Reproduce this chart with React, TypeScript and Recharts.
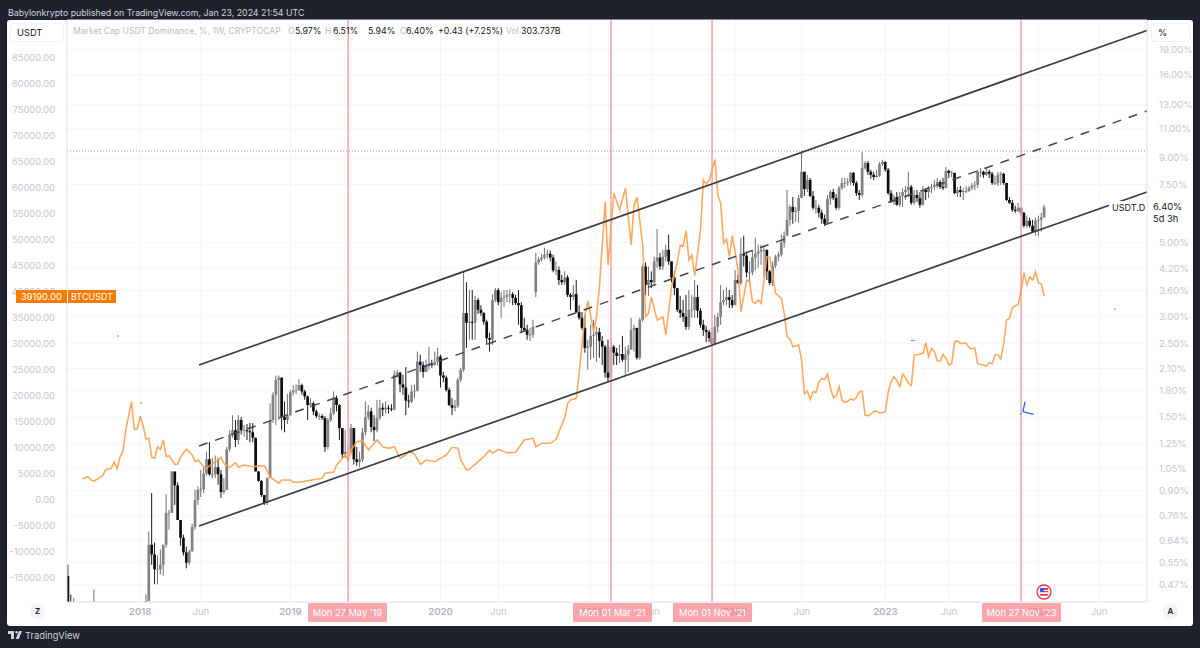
import React from 'react';
import { Bar, CartesianGrid, ComposedChart, Line, ReferenceDot, ReferenceLine, XAxis, YAxis } from 'recharts';

// USDT.D weekly closes, %
const closes = [
  .40, .39, .40, .38, .38, .38, .39, .38, .38, .39, .38, .38, .39, .38, .38, .38, .39, .38, .38, .38,
  .39, .38, .38, .39, .38, .38, .39, .42, .62, .58, .523, .523, .54, .62, .773, .773, 1.03, .935, .736, .651,
  .588, .548, .592, .702, .845, .906, .912, 1.015, 1.12, 1.01, 1.01, 1.06, 1.01, .893, .906, 1.20, 1.33, 1.37, 1.28, 1.47,
  1.37, 1.37, 1.36, 1.35, 1.30, 1.03, .965, .875, .829, .985, 1.47, 1.75, 1.94, 1.97, 1.50, 1.47, 1.52, 1.78, 1.80, 1.81,
  1.87, 1.79, 1.73, 1.63, 1.65, 1.56, 1.51, 1.51, 1.49, 1.22, 1.47, 1.54, 1.71, 1.63, 1.39, 1.16, 1.18, 1.18, 1.39, 1.12,
  1.10, 1.12, 1.35, 1.50, 1.56, 1.40, 1.37, 1.49, 1.60, 1.58, 1.60, 1.59, 1.58, 2.01, 2.04, 1.88, 1.84, 1.68, 1.67, 1.79,
  1.80, 2.20, 2.15, 2.05, 2.14, 2.17, 2.15, 2.20, 2.28, 2.00, 1.97, 1.81, 1.63, 1.60, 1.62, 1.94, 2.08, 3.08, 2.88, 2.90,
  2.88, 3.37, 3.15, 3.08, 2.90, 2.59, 2.56, 3.37, 3.61, 3.32, 3.42, 3.44, 3.49, 3.51, 3.42, 3.30, 3.25, 2.78, 2.74, 2.65,
  2.65, 2.80, 4.37, 4.46, 4.52, 4.61, 4.64, 4.52, 4.14, 4.15, 3.87, 3.81, 3.94, 3.49, 3.44, 3.51, 3.10, 2.98, 2.78, 2.42,
  2.44, 2.63, 2.65, 2.70, 2.54, 2.44, 2.04, 1.97, 2.44, 2.34, 2.29, 2.32, 2.23, 2.31, 2.39, 2.74, 2.78, 2.26, 2.94, 4.25,
  3.74, 3.87, 3.81, 4.40, 4.52, 4.25, 4.55, 4.77, 4.40, 3.94, 3.66, 3.15, 3.08, 3.00, 2.80, 3.15, 3.15, 3.44, 3.13, 2.84,
  2.74, 2.70, 2.59, 2.49, 2.80, 3.00, 3.32, 3.37, 3.44, 3.37, 3.25, 3.87, 3.79, 4.64, 4.58, 4.08, 4.08, 4.52, 4.64, 4.71,
  4.77, 4.77, 4.11, 3.79, 4.27, 4.55, 4.61, 5.01, 5.26, 5.87, 6.42, 6.20, 6.24, 6.82, 8.18, 7.26, 7.73, 6.92, 6.38, 6.38,
  6.16, 5.91, 5.71, 6.78, 7.11, 6.82, 6.38, 7.31, 7.57, 7.57, 7.62, 8.12, 7.57, 7.06, 6.97, 8.40, 8.69, 8.18, 8.01, 7.89,
  7.95, 8.63, 8.75, 8.30, 7.06, 6.64, 6.87, 6.51, 6.92, 7.11, 7.21, 7.37, 6.60, 6.97, 6.82, 6.51, 7.21, 7.11, 7.37, 7.37,
  7.47, 7.62, 7.37, 7.31, 8.24, 8.12, 8.12, 7.06, 7.21, 7.11, 7.16, 7.16, 7.31, 7.42, 7.47, 8.18, 8.18, 8.01, 8.18, 8.07,
  7.57, 7.57, 8.01, 8.07, 7.57, 6.73, 6.60, 6.29, 6.24, 6.38, 6.16, 5.63, 5.83, 5.63, 5.41, 5.83, 5.87, 5.97, 6.40,
];

const highs = [
  .54, .44, .43, .41, .41, .40, .41, .41, .40, .455, .41, .41, .41, .40, .41, .41, .41, .40, .41, .41,
  .41, .41, .40, .41, .41, .41, .41, .44, .68, .887, .63, .576, .60, .62, .88, .79, 1.03, 1.02, .955, .736,
  .665, .612, .60, .717, .906, .928, 1.04, 1.06, 1.18, 1.26, 1.13, 1.15, 1.13, 1.04, .985, 1.22, 1.37, 1.52, 1.47, 1.52,
  1.50, 1.42, 1.43, 1.44, 1.44, 1.30, 1.03, .97, .875, .985, 1.65, 1.78, 2.00, 2.00, 1.97, 1.67, 1.76, 1.81, 1.87, 1.88,
  1.95, 1.89, 1.81, 1.74, 1.71, 1.67, 1.58, 1.54, 1.53, 1.51, 1.49, 1.60, 1.79, 1.74, 1.64, 1.39, 1.37, 1.24, 1.43, 1.37,
  1.22, 1.18, 1.39, 1.67, 1.63, 1.60, 1.52, 1.69, 1.69, 1.65, 1.67, 1.63, 1.64, 2.07, 2.08, 2.05, 2.01, 2.12, 1.75, 1.87,
  1.88, 2.36, 2.31, 2.20, 2.23, 2.44, 2.23, 2.36, 2.42, 2.31, 2.05, 2.00, 1.84, 1.71, 1.69, 1.97, 2.11, 4.10, 3.81, 3.61,
  3.61, 3.47, 3.42, 3.25, 3.10, 2.94, 2.69, 3.51, 3.66, 3.66, 3.56, 3.61, 3.61, 3.63, 3.56, 3.49, 3.61, 3.32, 2.98, 2.84,
  2.78, 2.94, 4.67, 4.55, 4.64, 4.84, 4.77, 4.74, 4.61, 4.40, 4.25, 4.01, 4.11, 4.00, 3.54, 3.74, 3.87, 3.25, 3.10, 3.04,
  2.56, 2.84, 2.94, 2.80, 2.78, 2.63, 2.47, 2.56, 2.59, 2.47, 2.42, 2.47, 2.63, 2.44, 2.47, 2.98, 2.84, 2.74, 2.98, 4.30,
  4.37, 4.25, 4.11, 4.55, 5.51, 4.67, 4.77, 4.94, 5.30, 4.40, 4.11, 3.61, 3.47, 3.37, 3.49, 3.61, 3.49, 3.87, 3.74, 3.19,
  2.94, 2.82, 2.74, 2.78, 3.04, 3.08, 3.74, 3.61, 3.68, 3.61, 3.49, 4.15, 4.01, 5.19, 5.26, 4.71, 4.40, 4.77, 5.19, 4.94,
  4.94, 4.94, 4.52, 4.15, 4.40, 4.61, 4.71, 5.30, 5.41, 7.21, 6.51, 6.87, 6.42, 6.97, 9.45, 8.18, 8.01, 7.84, 7.16, 6.73,
  6.51, 6.29, 6.08, 6.97, 7.21, 7.26, 7.01, 7.42, 7.84, 7.84, 7.84, 8.18, 8.18, 7.67, 7.21, 9.38, 8.81, 8.81, 8.30, 8.18,
  8.30, 8.75, 8.88, 8.81, 8.40, 7.21, 6.97, 7.11, 7.11, 7.31, 7.42, 8.18, 7.47, 7.21, 7.21, 7.11, 7.42, 7.31, 7.42, 7.52,
  7.73, 7.84, 7.73, 7.84, 8.46, 8.30, 8.24, 8.12, 7.37, 7.42, 7.31, 7.42, 7.42, 7.57, 7.67, 8.30, 8.40, 8.24, 8.40, 8.30,
  8.18, 7.95, 8.18, 8.18, 8.12, 7.57, 6.87, 6.73, 6.47, 6.60, 6.42, 6.20, 6.04, 5.96, 5.87, 5.96, 6.04, 6.16, 6.51,
];

const lows = [
  .36, .36, .37, .36, .36, .36, .36, .36, .36, .37, .36, .36, .36, .36, .36, .36, .36, .36, .36, .36,
  .36, .36, .36, .36, .36, .36, .36, .38, .44, .54, .472, .472, .505, .50, .608, .688, .817, .817, .736, .616,
  .576, .527, .54, .592, .688, .817, .863, .887, 1.00, 1.00, .98, .985, .94, .857, .881, .985, 1.18, 1.30, 1.22, 1.24,
  1.33, 1.31, 1.28, 1.26, 1.26, 1.03, .96, .863, .817, .817, .99, 1.44, 1.42, 1.47, 1.37, 1.35, 1.43, 1.51, 1.74, 1.76,
  1.80, 1.75, 1.69, 1.47, 1.60, 1.52, 1.49, 1.47, 1.47, 1.18, 1.20, 1.45, 1.52, 1.56, 1.28, 1.13, 1.13, 1.10, 1.16, 1.08,
  1.07, 1.06, 1.10, 1.32, 1.47, 1.35, 1.27, 1.35, 1.47, 1.51, 1.54, 1.54, 1.56, 1.57, 1.97, 1.78, 1.75, 1.52, 1.60, 1.65,
  1.71, 1.79, 2.05, 1.97, 2.05, 2.08, 2.11, 2.14, 2.14, 1.84, 1.91, 1.79, 1.62, 1.52, 1.56, 1.60, 1.91, 2.05, 2.42, 2.56,
  2.56, 2.56, 3.06, 3.02, 2.84, 2.47, 2.36, 2.47, 3.32, 3.25, 2.98, 3.21, 3.32, 3.30, 3.25, 3.25, 2.84, 2.70, 2.72, 2.56,
  2.54, 2.59, 3.44, 4.30, 4.40, 4.46, 4.49, 4.40, 4.08, 4.01, 3.74, 3.74, 3.74, 3.44, 3.15, 3.37, 3.08, 2.94, 2.74, 2.34,
  2.08, 2.23, 2.26, 2.20, 2.26, 2.15, 1.97, 1.91, 1.97, 2.15, 2.15, 2.18, 2.20, 2.01, 2.05, 2.39, 2.36, 2.23, 2.23, 2.90,
  3.49, 3.47, 3.66, 3.71, 4.21, 4.15, 4.15, 4.40, 4.30, 3.81, 3.49, 3.10, 2.98, 2.90, 2.74, 2.74, 2.98, 2.98, 2.98, 2.78,
  2.63, 2.52, 2.52, 2.44, 2.50, 2.69, 2.84, 3.25, 3.25, 3.19, 3.19, 3.42, 3.77, 3.74, 4.25, 3.94, 3.74, 4.00, 4.15, 4.21,
  4.30, 3.94, 3.87, 3.74, 3.71, 4.21, 4.40, 4.55, 4.84, 5.26, 5.63, 5.71, 5.79, 5.75, 6.82, 6.92, 7.11, 6.87, 6.29, 6.12,
  5.96, 5.71, 5.63, 5.75, 6.51, 6.73, 6.29, 6.29, 7.21, 7.31, 7.42, 7.47, 7.42, 6.92, 6.73, 6.87, 8.30, 8.01, 7.79, 7.73,
  7.84, 7.89, 8.52, 8.18, 6.97, 6.60, 6.51, 6.47, 6.42, 6.42, 6.73, 6.87, 6.51, 6.51, 6.64, 6.38, 6.47, 6.73, 6.82, 7.06,
  7.21, 7.31, 7.26, 7.21, 7.47, 7.84, 7.89, 7.01, 6.87, 6.87, 6.73, 7.06, 7.11, 7.21, 7.21, 7.31, 7.89, 7.84, 7.95, 7.84,
  7.47, 7.47, 7.42, 7.47, 7.47, 6.69, 6.55, 6.20, 6.16, 6.20, 6.04, 5.56, 5.56, 5.56, 5.37, 5.26, 5.22, 5.41, 5.94,
];

const firstOpen = 0.5;
// weeks whose open does not sit on the previous close
const openGaps: Record<number, number> = { 162: 3.56, 338: 5.97 };

// BTCUSDT read at its visible turning points
const btcWeeks = [
  5, 6, 7, 8, 9, 11, 12, 13, 15, 16, 17, 18, 19, 20, 22, 23, 24, 25, 26, 27, 28, 29, 30, 31, 32, 33, 34, 35, 37, 38, 39, 41, 43, 44, 45, 47, 48, 50, 52, 53,
  54, 56, 58, 59, 61, 64, 68, 70, 71, 73, 74, 77, 78, 80, 88, 89, 92, 93, 94, 96, 97, 98, 100, 102, 104, 107, 109, 111, 113, 115, 117, 118, 120, 122, 124, 127, 131, 133, 135, 136,
  138, 139, 142, 144, 146, 147, 149, 152, 155, 158, 161, 162, 164, 167, 169, 172, 173, 174, 176, 177, 178, 179, 180, 182, 183, 184, 186, 187, 189, 191, 193, 195, 196, 197, 199, 200, 201, 202, 204, 206,
  207, 209, 211, 212, 213, 214, 215, 216, 217, 219, 220, 221, 222, 224, 225, 226, 227, 228, 229, 230, 232, 233, 235, 236, 237, 238, 239, 240, 242, 243, 245, 247, 248, 249, 250, 251, 253, 254, 255, 256,
  257, 258, 259, 260, 261, 262, 263, 264, 265, 266, 267, 268, 269, 270, 271, 272, 273, 274, 275, 276, 277, 278, 279, 280, 281, 282, 283, 284, 285, 286, 287, 288, 289, 290, 291, 292, 293, 294, 296, 297,
  298, 299, 300, 301, 302, 303, 304, 305, 306, 307, 308, 309, 311, 312, 313, 314, 315, 316, 318, 319, 320, 321, 322, 323, 324, 325, 326, 327, 328, 329, 330, 331, 332, 333, 334, 335, 336, 337, 338,
];

const btcPrices = [
  4100, 4300, 4480, 3850, 3650, 4290, 4670, 5770, 6150, 7300, 5960, 8270, 9290, 13460, 18900, 13600, 13700, 16150, 14230, 11730, 11860, 8200, 8020, 10250, 9750, 11540, 8330, 8520, 6860, 6920, 8330, 9750, 8650, 7370, 7690, 6400, 6100, 7050, 7690, 8200,
  7050, 6280, 7180, 6280, 6730, 6400, 6600, 4480, 4040, 3210, 3850, 3850, 3400, 3400, 4170, 5130, 5380, 6730, 7370, 8650, 7690, 9620, 11210, 11400, 9620, 11540, 10250, 9940, 10250, 8020, 8650, 9480, 8846, 6860, 7690, 7370, 8650, 10130, 9940, 7690,
  5770, 5960, 7370, 8330, 9620, 9000, 9750, 9100, 9170, 11540, 11860, 10250, 10900, 10900, 11670, 15900, 18600, 19230, 19560, 24360, 30130, 35580, 38300, 32370, 35250, 41000, 57360, 45190, 58970, 55770, 59950, 49040, 56730, 58200, 49040, 35250, 35900, 39000, 34600, 35250,
  31730, 41000, 45830, 49040, 48850, 51800, 46150, 47100, 43130, 51920, 61540, 60770, 61400, 65500, 58650, 57050, 49360, 50130, 46800, 50770, 44230, 36200, 42300, 41980, 38130, 37820, 38460, 37820, 46800, 46670, 39750, 38780, 35900, 31400, 30900, 29480, 29800, 26920, 20510, 20960,
  19360, 20830, 20700, 22750, 23330, 23200, 24230, 21480, 19670, 20000, 21790, 19230, 18780, 18980, 19420, 19230, 19750, 20770, 20900, 16350, 16220, 16480, 17120, 17060, 16790, 16790, 16980, 20830, 22750, 23710, 22940, 21790, 24230, 23520, 22440, 21980, 27880, 27940, 28200, 30250,
  27560, 29170, 28520, 26790, 26730, 28010, 27250, 25960, 26290, 30440, 30580, 30130, 30130, 29290, 29100, 29230, 26150, 26100, 25770, 26400, 26210, 27940, 27940, 27120, 30130, 34620, 34940, 37060, 37370, 37560, 40380, 43720, 41350, 42940, 42300, 43900, 41790, 41540, 39190,
];

const priceTicks = [85000, 80000, 75000, 70000, 65000, 60000, 55000, 50000, 45000, 40000, 35000, 30000, 25000, 20000, 15000, 10000, 5000, 0, -5000, -10000, -15000];
const dominanceTicks = [19, 16, 13, 11, 9, 7.5, 5, 4.2, 3.6, 3, 2.5, 2.1, 1.8, 1.5, 1.25, 1.05, 0.9, 0.76, 0.64, 0.55, 0.47];
const timeTicks = [25, 46, 77, 98, 129, 149, 181, 202, 231, 254, 283, 305, 336, 357];
const timeLabels = ['2018', 'Jun', '2019', 'Jun', '2020', 'Jun', '2021', 'Jun', '2022', 'Jun', '2023', 'Jun', '2024', 'Jun'];

const markerWeeks = [97, 188, 223, 330];
const markerLabels = ["Mon 27 May '19", "Mon 01 Mar '21", "Mon 01 Nov '21", "Mon 27 Nov '23"];

// channel drawn on the price scale: [week, price] pairs
const channelUpper = [[45.36, 25960], [373.6, 90290]];
const channelMiddle = [[45.36, 10385], [373.6, 74808]];
const channelLower = [[45.36, -5000], [373.6, 59231]];
const resistancePrice = 67115;

const blueDots = [[17.3, 31538], [25.3, 18654], [292.2, 30673], [292.9, 30673], [362.5, 36731], [329.9, 16600]];
const blueTick = [[331.4, 18904], [330.6, 16980], [334.3, 16480]];

const btcByWeek = new Map(btcWeeks.map((w, i) => [w, btcPrices[i]]));
const table = closes.map((close, week) => {
  const open = openGaps[week] ?? (week === 0 ? firstOpen : closes[week - 1]);
  return { week, open, close, high: highs[week], low: lows[week], range: [lows[week], highs[week]], btc: btcByWeek.get(week) ?? null };
});

const toSegment = (pair: number[][]) => pair.map(([x, y]) => ({ x, y }));

// log axis, so the body is placed inside the wick by log distance
const Candle = (props: any) => {
  const { x, y, width, height, payload } = props;
  const { open, close, high, low } = payload;
  const span = Math.log(high) - Math.log(low);
  const at = (v: number) => y + (height * (Math.log(high) - Math.log(v))) / span;
  const top = at(Math.max(open, close));
  const bottom = at(Math.min(open, close));
  const up = close >= open;
  const cx = x + width / 2;
  return (
    <g>
      <line x1={cx} x2={cx} y1={y} y2={y + height} stroke={up ? '#6f6f73' : '#1a1a1a'} strokeWidth={1} />
      <rect x={x} y={top} width={width} height={Math.max(bottom - top, 0.8)} fill={up ? '#808085' : '#0c0c0c'} />
    </g>
  );
};

const TimeTick = (props: any) => {
  const { x, y, payload } = props;
  const label = timeLabels[timeTicks.indexOf(payload.value)];
  const isYear = label !== 'Jun';
  return (
    <text x={x} y={y + 5} textAnchor="middle" fontSize={9.6} fontWeight={isYear ? 600 : 400} fill={isYear ? '#b2b5be' : '#c4c7cf'}>
      {label}
    </text>
  );
};

const font = 'Inter, "Noto Sans", sans-serif';
const textSize = 9.3;

const Abs = ({ style, children }: { style: React.CSSProperties; children?: React.ReactNode }) => (
  <div style={{ position: 'absolute', whiteSpace: 'nowrap', ...style }}>{children}</div>
);

const markerBoxes = [308, 573, 673, 982];

export default function App() {
  return (
    <div style={{ position: 'fixed', left: 0, top: 0, width: 1200, height: 648, background: '#1e222d', fontFamily: font, overflow: 'hidden' }}>
      <Abs style={{ left: 8, top: 7, fontSize: 8.8, color: '#d1d4dc' }}>Babylonkrypto published on TradingView.com, Jan 23, 2024 21:54 UTC</Abs>
      <div style={{ position: 'absolute', left: 7, top: 20, width: 1186, height: 606, background: '#fff', borderRadius: 3 }} />

      <div style={{ position: 'absolute', left: 0, top: 0 }}>
        <ComposedChart width={1200} height={648} data={table} margin={{ top: 20, right: 7, bottom: 24, left: 8 }} style={{ fontFamily: font }}>
          <CartesianGrid yAxisId="right" stroke="#f4f5f7" strokeWidth={1} />
          <XAxis
            dataKey="week"
            type="number"
            domain={[-0.35, 373.6]}
            allowDataOverflow
            ticks={timeTicks}
            interval={0}
            height={22}
            tick={<TimeTick />}
            tickLine={false}
            axisLine={{ stroke: '#e0e3eb' }}
          />
          <YAxis
            yAxisId="left"
            orientation="left"
            width={59}
            type="number"
            domain={[-19615, 92308]}
            allowDataOverflow
            ticks={priceTicks}
            interval={0}
            tickFormatter={(v: number) => v.toFixed(2)}
            tick={{ fontSize: 9.3, fill: '#c4c7cf' }}
            tickLine={false}
            tickMargin={6}
            axisLine={{ stroke: '#e0e3eb' }}
          />
          <YAxis
            yAxisId="right"
            orientation="right"
            width={46}
            type="number"
            scale="log"
            domain={[0.4175, 23.37]}
            allowDataOverflow
            ticks={dominanceTicks}
            interval={0}
            tickFormatter={(v: number) => `${v.toFixed(2)}%`}
            tick={{ fontSize: 9.6, fill: '#c4c7cf' }}
            tickLine={false}
            tickMargin={6}
            axisLine={{ stroke: '#e0e3eb' }}
          />

          {markerWeeks.map((week) => (
            <ReferenceLine key={week} yAxisId="left" x={week} stroke="#f7a6ac" strokeWidth={1.6} />
          ))}
          <ReferenceLine yAxisId="left" y={resistancePrice} stroke="#9598a1" strokeWidth={1} strokeDasharray="1 2" />

          <Bar yAxisId="right" dataKey="range" barSize={2.7} shape={<Candle />} isAnimationActive={false} />
          <Line
            yAxisId="left"
            dataKey="btc"
            connectNulls
            dot={false}
            stroke="#ffa04d"
            strokeOpacity={0.9}
            strokeWidth={1.6}
            isAnimationActive={false}
          />

          <ReferenceLine yAxisId="left" segment={toSegment(channelUpper)} stroke="#363a45" strokeWidth={1.7} />
          <ReferenceLine yAxisId="left" segment={toSegment(channelMiddle)} stroke="#434651" strokeWidth={1.5} strokeDasharray="9 8" />
          <ReferenceLine yAxisId="left" segment={toSegment(channelLower)} stroke="#363a45" strokeWidth={1.7} />

          <ReferenceLine yAxisId="left" segment={toSegment(blueTick.slice(0, 2))} stroke="#2962ff" strokeWidth={1.3} />
          <ReferenceLine yAxisId="left" segment={toSegment(blueTick.slice(1))} stroke="#2962ff" strokeWidth={1.3} />
          {blueDots.map(([x, y]) => (
            <ReferenceDot key={x} yAxisId="left" x={x} y={y} r={0.7} fill="#2962ff" stroke="none" />
          ))}
        </ComposedChart>
      </div>

      {/* pane chips and legend */}
      <Abs style={{ left: 10, top: 23, width: 54, height: 19, border: '1px solid #f0f1f4', borderRadius: 3, background: '#fff', fontSize: textSize, color: '#131722', lineHeight: '17px', paddingLeft: 6, boxSizing: 'border-box' }}>USDT</Abs>
      <Abs style={{ left: 1151, top: 23, width: 39, height: 19, border: '1px solid #f0f1f4', borderRadius: 3, background: '#fff', fontSize: textSize, color: '#131722', lineHeight: '17px', paddingLeft: 6, boxSizing: 'border-box' }}>%</Abs>
      <Abs style={{ left: 73, top: 25, fontSize: 8.6, lineHeight: '12px', color: '#b8bbc4' }}>Market Cap USDT Dominance, %, 1W, CRYPTOCAP</Abs>
      {[
        ['O', 288, '5.97%', 295],
        ['H', 325, '6.51%', 333],
        ['L', 366, '5.94%', 368],
        ['C', 400, '6.40%', 406],
      ].map(([k, kx, v, vx]) => (
        <React.Fragment key={k as string}>
          {k !== 'L' && <Abs style={{ left: kx as number, top: 25, fontSize: 8.6, lineHeight: '12px', color: '#b8bbc4' }}>{k}</Abs>}
          <Abs style={{ left: vx as number, top: 25, fontSize: 8.8, lineHeight: '12px', color: '#131722' }}>{v}</Abs>
        </React.Fragment>
      ))}
      <Abs style={{ left: 438, top: 25, fontSize: 8.8, lineHeight: '12px', color: '#131722' }}>+0.43 (+7.25%)</Abs>
      <Abs style={{ left: 506, top: 25, fontSize: 8.6, lineHeight: '12px', color: '#b8bbc4' }}>Vol</Abs>
      <Abs style={{ left: 521, top: 25, fontSize: 8.8, lineHeight: '12px', color: '#131722' }}>303.737B</Abs>

      {/* price tags */}
      <Abs style={{ left: 16, top: 290, width: 51, height: 13, background: '#f57c00', color: '#fff', fontSize: textSize, lineHeight: '13px', textAlign: 'center' }}>39190.00</Abs>
      <Abs style={{ left: 68, top: 290, width: 48, height: 13, background: '#f57c00', color: '#fff', fontSize: 9, lineHeight: '13px', textAlign: 'center' }}>BTCUSDT</Abs>
      <Abs style={{ left: 1109, top: 201, width: 38, height: 14, background: '#fff', color: '#131722', fontSize: 9, lineHeight: '14px', paddingLeft: 3, boxSizing: 'border-box' }}>USDT.D</Abs>
      <Abs style={{ left: 1148, top: 201, width: 42, height: 24, background: '#fff', color: '#131722', fontSize: textSize, lineHeight: '11.5px', paddingLeft: 5, boxSizing: 'border-box' }}>
        6.40%
        <br />
        5d 3h
      </Abs>

      {/* time axis date markers */}
      {markerLabels.map((label, i) => (
        <Abs key={label} style={{ left: markerBoxes[i], top: 603, width: 79, height: 19, background: 'rgba(247,130,140,0.72)', borderRadius: 1, color: '#fff', fontSize: textSize, lineHeight: '19px', textAlign: 'center' }}>
          {label}
        </Abs>
      ))}

      <Abs style={{ left: 30, top: 604, width: 15, height: 15, borderRadius: 8, background: '#f0f3fa', color: '#131722', fontSize: 8, fontWeight: 600, lineHeight: '15px', textAlign: 'center' }}>Z</Abs>
      <Abs style={{ left: 1163, top: 604, width: 15, height: 15, borderRadius: 8, background: '#f0f3fa', color: '#131722', fontSize: 8, fontWeight: 600, lineHeight: '15px', textAlign: 'center' }}>A</Abs>

      {/* event flag */}
      <svg style={{ position: 'absolute', left: 1036, top: 584 }} width={16} height={16} viewBox="0 0 16 16">
        <circle cx={8} cy={8} r={7} fill="#fff" stroke="#f23645" strokeWidth={1.4} />
        <rect x={4} y={4} width={8} height={2} fill="#f23645" />
        <rect x={4} y={7} width={8} height={1.2} fill="#f23645" />
        <rect x={4} y={10} width={8} height={1.6} fill="#f23645" />
        <rect x={4} y={4} width={4} height={4} fill="#2962ff" />
      </svg>

      {/* footer logo */}
      <svg style={{ position: 'absolute', left: 8, top: 631 }} width={14} height={9} viewBox="0 0 14 9">
        <path d="M0 0h6v8H3V3H0zM8.5 0a1.3 1.3 0 1 1 0 2.6 1.3 1.3 0 0 1 0-2.6zM11 0h3l-3.2 8H7.6z" fill="#d1d4dc" />
      </svg>
      <Abs style={{ left: 25, top: 630, fontSize: 9.3, color: '#d1d4dc' }}>TradingView</Abs>
    </div>
  );
}
